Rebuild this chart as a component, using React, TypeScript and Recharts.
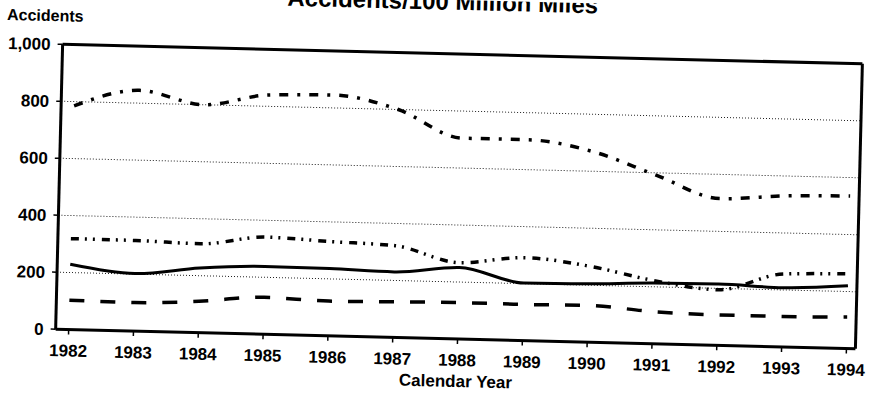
import { LineChart, Line, XAxis, YAxis, CartesianGrid } from "recharts";

// values read against the (tilted) gridlines of the scanned chart
const years = ["1982", "1983", "1984", "1985", "1986", "1987", "1988", "1989", "1990", "1991", "1992", "1993", "1994"];
const dashDot = [785, 845, 800, 840, 845, 800, 705, 705, 670, 592, 515, 530, 535];
const dashDotDot = [319, 318, 312, 341, 331, 322, 268, 291, 267, 222, 195, 256, 262];
const solid = [229, 202, 227, 238, 236, 230, 251, 202, 205, 213, 215, 208, 220];
const dashed = [103, 100, 110, 130, 122, 125, 128, 127, 129, 113, 107, 107, 111];
const yTicks = [0, 200, 400, 600, 800, 1000];

const title = "Accidents/100 Million Miles";
const yLabel = "Accidents";
const xLabel = "Calendar Year";

const data = years.map((year, i) => ({
    year,
    dashDot: dashDot[i],
    dashDotDot: dashDotDot[i],
    solid: solid[i],
    dashed: dashed[i],
}));

const fmt = (v: number) => String(v).replace(/\B(?=(\d{3})+(?!\d))/g, ",");

const font = '"Liberation Sans", Arial, sans-serif';
const tickStyle = { fill: "#000", fontSize: 17, fontWeight: 700, fontFamily: font };
const frame = { stroke: "#000", strokeWidth: 3 };

export default function App() {
    return (
        <div
            style={{
                position: "absolute",
                left: 0,
                top: 0,
                width: 870,
                height: 398,
                background: "#fff",
                // the scan is a little tilted
                transform: "rotate(1.4deg)",
                transformOrigin: "458.5px 197px",
                fontFamily: font,
            }}
        >
            <LineChart
                width={870}
                height={398}
                data={data}
                margin={{ top: 53, right: 10, bottom: 0, left: 0 }}
            >
                <CartesianGrid vertical={false} stroke="#222" strokeDasharray="1 2" />
                <XAxis
                    dataKey="year"
                    interval={0}
                    padding={{ left: 13, right: 9 }}
                    height={59}
                    tickSize={5}
                    tickMargin={10}
                    tick={tickStyle}
                    axisLine={frame}
                    tickLine={{ stroke: "#000", strokeWidth: 1.5 }}
                />
                {/* top and right edges of the box */}
                <XAxis
                    xAxisId="top"
                    orientation="top"
                    dataKey="year"
                    height={1}
                    tick={false}
                    tickLine={false}
                    axisLine={frame}
                />
                <YAxis
                    domain={[0, 1000]}
                    ticks={yTicks}
                    interval={0}
                    width={59}
                    tickSize={5}
                    tickMargin={7}
                    tickFormatter={fmt}
                    tick={tickStyle}
                    axisLine={frame}
                    tickLine={{ stroke: "#000", strokeWidth: 1.5 }}
                />
                <YAxis
                    yAxisId="right"
                    orientation="right"
                    domain={[0, 1000]}
                    width={1}
                    tick={false}
                    tickLine={false}
                    axisLine={frame}
                />
                <Line
                    type="monotone"
                    dataKey="dashDot"
                    stroke="#000"
                    strokeWidth={3.5}
                    strokeDasharray="9 9 3 9"
                    dot={false}
                    activeDot={false}
                    isAnimationActive={false}
                />
                <Line
                    type="monotone"
                    dataKey="dashDotDot"
                    stroke="#000"
                    strokeWidth={3.5}
                    strokeDasharray="8 6 2 6 2 7"
                    dot={false}
                    activeDot={false}
                    isAnimationActive={false}
                />
                <Line
                    type="monotone"
                    dataKey="solid"
                    stroke="#000"
                    strokeWidth={3}
                    dot={false}
                    activeDot={false}
                    isAnimationActive={false}
                />
                <Line
                    type="monotone"
                    dataKey="dashed"
                    stroke="#000"
                    strokeWidth={3.5}
                    strokeDasharray="15 16"
                    dot={false}
                    activeDot={false}
                    isAnimationActive={false}
                />
            </LineChart>
            <svg
                width={870}
                height={398}
                style={{ position: "absolute", left: 0, top: 0, pointerEvents: "none" }}
            >
                <text x={438} y={10} textAnchor="middle" fontSize={24} fontWeight={700} fontFamily={font}>
                    {title}
                </text>
                <text x={41} y={31} textAnchor="middle" fontSize={16} fontWeight={700} fontFamily={font}>
                    {yLabel}
                </text>
                <text x={460} y={387} textAnchor="middle" fontSize={17} fontWeight={700} fontFamily={font}>
                    {xLabel}
                </text>
            </svg>
        </div>
    );
}
